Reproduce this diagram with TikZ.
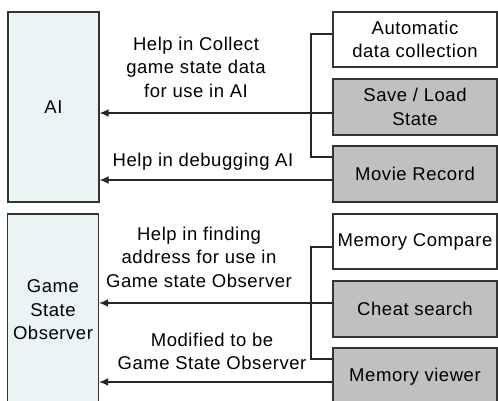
\documentclass[tikz,border=0pt]{standalone}
\usepackage{fontspec}
\setmainfont{Liberation Sans}[LetterSpace=3]
\usetikzlibrary{arrows.meta}
\definecolor{lightbg}{HTML}{E9F5F5}
\definecolor{boxgray}{HTML}{C0C0C0}
\definecolor{edge}{HTML}{333333}
\tikzset{
  base/.style={draw=edge, line width=1.4pt, align=center, inner sep=0pt,
    font=\fontsize{18.5}{23.5}\selectfont},
  bluebox/.style={base, fill=lightbg, minimum width=91pt},
  whitebox/.style={base, fill=white, minimum width=164pt},
  graybox/.style={base, fill=boxgray, minimum width=164pt},
  lbl/.style={align=center, inner sep=0pt, font=\fontsize{18.5}{23.5}\selectfont},
  conn/.style={draw=black!85, line width=1.2pt},
  arr/.style={conn, -{Latex[length=9pt,width=8pt]}}
}
\begin{document}
\begin{tikzpicture}[x=1pt,y=-1pt]
\useasboundingbox (0,0) rectangle (498,400);
\clip (0,0) rectangle (498,400);
% left boxes
\node[bluebox, minimum height=190pt] (ai) at (53.5,107) {AI};
\node[bluebox, minimum height=192pt] (gso) at (53,310) {Game\\State\\Observer};
% right boxes
\node[whitebox, minimum height=55pt] (auto) at (415,39.5) {Automatic\\data collection};
\node[graybox, minimum height=56pt] (save) at (415,107) {Save / Load\\State};
\node[graybox, minimum height=56pt] (movie) at (415,174) {Movie Record};
\node[whitebox, minimum height=55pt] (memcmp) at (415,241.5) {Memory Compare};
\node[graybox, minimum height=56pt] (cheat) at (415,309) {Cheat search};
\node[graybox, minimum height=58pt] (viewer) at (415,377) {Memory viewer};
% labels
\node[lbl] (l1) at (196,67) {Help in Collect\\game state data\\for use in AI};
\node[lbl] (l2) at (203,162) {Help in debugging AI};
\node[lbl] (l3) at (199,257) {Help in finding\\address for use in\\Game state Observer};
\node[lbl] (l4) at (212,351.5) {Modified to be\\Game State Observer};
% brackets
\coordinate (b1t) at (311,34);
\coordinate (b1b) at (311,157);
\coordinate (b2t) at (311,247);
\coordinate (b2b) at (311,359);
\draw[conn] (auto.west |- b1t) -- (b1t) -- (b1b) -- (movie.west |- b1b);
\draw[conn] (memcmp.west |- b2t) -- (b2t) -- (b2b) -- (viewer.west |- b2b);
% arrows
\coordinate (a1) at (0,113);
\coordinate (a2) at (0,180);
\coordinate (a3) at (0,303);
\coordinate (a4) at (0,382);
\draw[arr] (save.west |- a1) -- (ai.east |- a1);
\draw[arr] (movie.west |- a2) -- (ai.east |- a2);
\draw[arr] (cheat.west |- a3) -- (gso.east |- a3);
\draw[arr] (viewer.west |- a4) -- (gso.east |- a4);
\end{tikzpicture}
\end{document}
